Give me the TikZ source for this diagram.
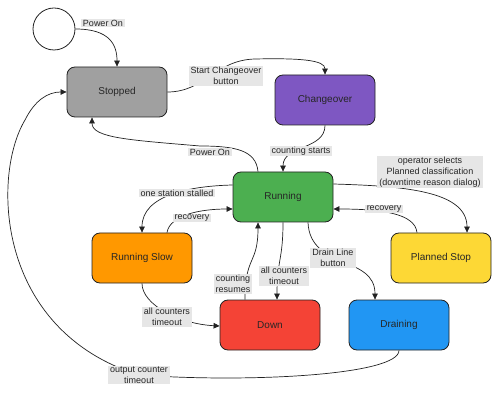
\documentclass[tikz,border=0pt]{standalone}
\usepackage{fontspec}
\setmainfont{Liberation Sans}
\usetikzlibrary{arrows.meta}
\definecolor{cstop}{HTML}{A0A0A0}
\definecolor{cchange}{HTML}{7E57C2}
\definecolor{crun}{HTML}{4CAF50}
\definecolor{cslow}{HTML}{FF9800}
\definecolor{cplan}{HTML}{FDD835}
\definecolor{cdown}{HTML}{F44336}
\definecolor{cdrain}{HTML}{2196F3}
\definecolor{clbl}{HTML}{E6E6E6}
\definecolor{cline}{HTML}{222222}
\tikzset{
  state/.style={draw=cline, line width=0.8pt, rounded corners=8pt, minimum width=100pt, minimum height=50pt, font=\fontsize{10}{12}\selectfont, text=black!85},
  lbl/.style={fill=clbl, inner xsep=2pt, inner ysep=1pt, align=center, font=\fontsize{9}{11}\selectfont, text=black!85},
  edge/.style={draw=cline, line width=0.7pt, -{Triangle[length=6pt,width=5.5pt]}},
}
\begin{document}
\begin{tikzpicture}[x=1pt,y=-1pt]
\useasboundingbox (0,0) rectangle (500,395);
% states
\node[draw=cline, line width=0.8pt, circle, minimum size=42pt, inner sep=0pt] (init) at (54,29) {};
\node[state, fill=cstop] (stopped) at (117,92) {Stopped};
\node[state, fill=cchange] (changeover) at (325,100) {Changeover};
\node[state, fill=crun] (running) at (283,197) {Running};
\node[state, fill=cslow] (slow) at (142,258) {Running Slow};
\node[state, fill=cplan] (planned) at (441,258) {Planned Stop};
\node[state, fill=cdown] (down) at (270,325) {Down};
\node[state, fill=cdrain] (draining) at (399,325) {Draining};
% label anchors
\coordinate (lout) at (139,375);
\coordinate (c1) at (25,120);
% edges
\draw[edge] (init.east) .. controls (110,29) and (117,45) .. (stopped.north);
\draw[edge] (stopped.east) .. controls (205,92) and (215,60) .. (255,59) .. controls (300,58) and (325,60) .. (changeover.north);
\draw[edge] (changeover.south) .. controls (325,150) and (283,145) .. (running.north);
\draw[edge] ([xshift=-25pt]running.north) .. controls (256,150) and (235,146) .. (200,146) .. controls (130,140) and (92,138) .. ([xshift=-25pt]stopped.south);
\draw[edge] ([yshift=12pt]running.west) .. controls (190,186) and (142,195) .. (slow.north);
\draw[edge] ([xshift=25pt]slow.north) .. controls (170,215) and (200,209) .. ([yshift=-12pt]running.west);
\draw[edge] ([yshift=13pt]running.east) .. controls (400,186) and (467,190) .. ([xshift=26pt]planned.north);
\draw[edge] ([xshift=-24pt]planned.north) .. controls (415,213) and (380,209) .. ([yshift=-12pt]running.east);
\draw[edge] ([xshift=25pt]running.south) .. controls (310,270) and (375,255) .. ([xshift=-24pt]draining.north);
\draw[edge] (running.south) .. controls (283,260) and (277,260) .. ([xshift=7pt]down.north);
\draw[edge] ([xshift=-25pt]down.north) .. controls (245,255) and (258,265) .. ([xshift=-25pt]running.south);
\draw[edge] (slow.south) .. controls (142,305) and (180,324) .. ([yshift=-1pt]down.west);
\draw[edge] (draining.south) .. controls (399,375) and (250,383) .. (lout) .. controls (-5,330) and (-8,175) .. (c1) .. controls (35,100) and (48,92) .. (stopped.west);
% labels
\node[lbl] (lpower1) at (103,23) {Power On};
\node[lbl] (lstart) at (226,76) {Start Changeover\\button};
\node[lbl] (lcount) at (301,151) {counting starts};
\node[lbl] (lpower2) at (210,152) {Power On};
\node[lbl] (lstall) at (177,193) {one station stalled};
\node[lbl] (lrec1) at (192,218) {recovery};
\node[lbl] (lop) at (430,172) {operator selects\\Planned classification\\(downtime reason dialog)};
\node[lbl] (lrec2) at (384,209) {recovery};
\node[lbl] (ldrain) at (333,258) {Drain Line\\button};
\node[lbl] (lall1) at (284,276) {all counters\\timeout};
\node[lbl] (lres) at (233,284) {counting\\resumes};
\node[lbl] (lall2) at (167,317) {all counters\\timeout};
\node[lbl] (lout2) at (lout) {output counter\\timeout};
\end{tikzpicture}
\end{document}
